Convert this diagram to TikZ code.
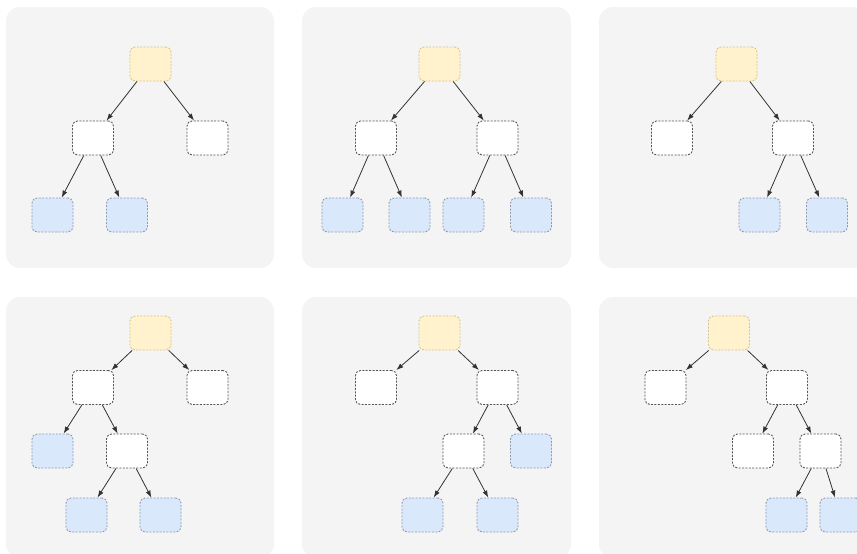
\documentclass[tikz,border=0pt]{standalone}
\usepackage{xcolor}
\usepackage{tikz}
\usetikzlibrary{arrows.meta, positioning}
\definecolor{PanelBg}{HTML}{F4F4F4}
\definecolor{RootFill}{HTML}{FFF2CC}
\definecolor{RootLine}{HTML}{D9C48A}
\definecolor{LeafFill}{HTML}{DAE8FC}
\definecolor{LeafLine}{HTML}{8E9CB2}
\definecolor{InnerLine}{HTML}{555555}
\definecolor{ArrowDark}{HTML}{333333}

\begin{document}
\begin{tikzpicture}[x=1pt, y=-1pt,
  panel/.style={fill=PanelBg, draw=none, rounded corners=14pt},
  tbox/.style={rounded corners=5pt, minimum width=41pt, minimum height=34pt,
    inner sep=0pt, line width=0.9pt, dash pattern=on 2pt off 1.4pt},
  rootbox/.style={tbox, draw=RootLine, fill=RootFill},
  innerbox/.style={tbox, draw=InnerLine, fill=white},
  leafbox/.style={tbox, draw=LeafLine, fill=LeafFill},
  arr/.style={-{Latex[length=7pt, width=5pt]}, ArrowDark, line width=0.8pt}
]
\useasboundingbox (0,0) rectangle (857,554);

% panels
\fill[panel] (6,7) rectangle (274,268);
\fill[panel] (302,7) rectangle (571,268);
\fill[panel] (599,7) rectangle (867,268);
\fill[panel] (6,297) rectangle (274,558);
\fill[panel] (302,297) rectangle (571,558);
\fill[panel] (599,297) rectangle (867,558);

% tree 1
\node[rootbox]  (t1root) at (150.5,64) {};
\node[innerbox] (t1l)    at (93,138)   {};
\node[innerbox] (t1r)    at (207.5,138) {};
\node[leafbox]  (t1ll)   at (52.5,215) {};
\node[leafbox]  (t1lr)   at (127,215)  {};
\draw[arr] (t1root) -- (t1l);
\draw[arr] (t1root) -- (t1r);
\draw[arr] (t1l) -- (t1ll);
\draw[arr] (t1l) -- (t1lr);

% tree 2
\node[rootbox]  (t2root) at (439.5,64) {};
\node[innerbox] (t2l)    at (376,138)   {};
\node[innerbox] (t2r)    at (497.5,138) {};
\node[leafbox]  (t2ll)   at (342.5,215) {};
\node[leafbox]  (t2lr)   at (409.5,215) {};
\node[leafbox]  (t2rl)   at (463.5,215) {};
\node[leafbox]  (t2rr)   at (531,215)   {};
\draw[arr] (t2root) -- (t2l);
\draw[arr] (t2root) -- (t2r);
\draw[arr] (t2l) -- (t2ll);
\draw[arr] (t2l) -- (t2lr);
\draw[arr] (t2r) -- (t2rl);
\draw[arr] (t2r) -- (t2rr);

% tree 3
\node[rootbox]  (t3root) at (736.5,64) {};
\node[innerbox] (t3l)    at (672,138)   {};
\node[innerbox] (t3r)    at (793,138)   {};
\node[leafbox]  (t3rl)   at (759.5,215) {};
\node[leafbox]  (t3rr)   at (827,215)   {};
\draw[arr] (t3root) -- (t3l);
\draw[arr] (t3root) -- (t3r);
\draw[arr] (t3r) -- (t3rl);
\draw[arr] (t3r) -- (t3rr);

% tree 4
\node[rootbox]  (t4root) at (150.5,333) {};
\node[innerbox] (t4l)    at (93,387.5)   {};
\node[innerbox] (t4r)    at (207.5,387.5) {};
\node[leafbox]  (t4ll)   at (52.5,451)   {};
\node[innerbox] (t4lr)   at (127,451)    {};
\node[leafbox]  (t4lrl)  at (86.5,515)   {};
\node[leafbox]  (t4lrr)  at (160.5,515)  {};
\draw[arr] (t4root) -- (t4l);
\draw[arr] (t4root) -- (t4r);
\draw[arr] (t4l) -- (t4ll);
\draw[arr] (t4l) -- (t4lr);
\draw[arr] (t4lr) -- (t4lrl);
\draw[arr] (t4lr) -- (t4lrr);

% tree 5
\node[rootbox]  (t5root) at (439.5,333) {};
\node[innerbox] (t5l)    at (376,387.5)   {};
\node[innerbox] (t5r)    at (497.5,387.5) {};
\node[innerbox] (t5rl)   at (463.5,451)   {};
\node[leafbox]  (t5rr)   at (531,451)     {};
\node[leafbox]  (t5rll)  at (422.5,515)   {};
\node[leafbox]  (t5rlr)  at (497.5,515)   {};
\draw[arr] (t5root) -- (t5l);
\draw[arr] (t5root) -- (t5r);
\draw[arr] (t5r) -- (t5rl);
\draw[arr] (t5r) -- (t5rr);
\draw[arr] (t5rl) -- (t5rll);
\draw[arr] (t5rl) -- (t5rlr);

% tree 6
\node[rootbox]  (t6root) at (729,333) {};
\node[innerbox] (t6l)    at (665.5,387.5) {};
\node[innerbox] (t6r)    at (787,387.5)   {};
\node[innerbox] (t6rl)   at (753,451)     {};
\node[innerbox] (t6rr)   at (820.5,451)   {};
\node[leafbox]  (t6rrl)  at (786.5,515)   {};
\node[leafbox]  (t6rrr)  at (840.5,515)   {};
\draw[arr] (t6root) -- (t6l);
\draw[arr] (t6root) -- (t6r);
\draw[arr] (t6r) -- (t6rl);
\draw[arr] (t6r) -- (t6rr);
\draw[arr] (t6rr) -- (t6rrl);
\draw[arr] (t6rr) -- (t6rrr);
\end{tikzpicture}
\end{document}
